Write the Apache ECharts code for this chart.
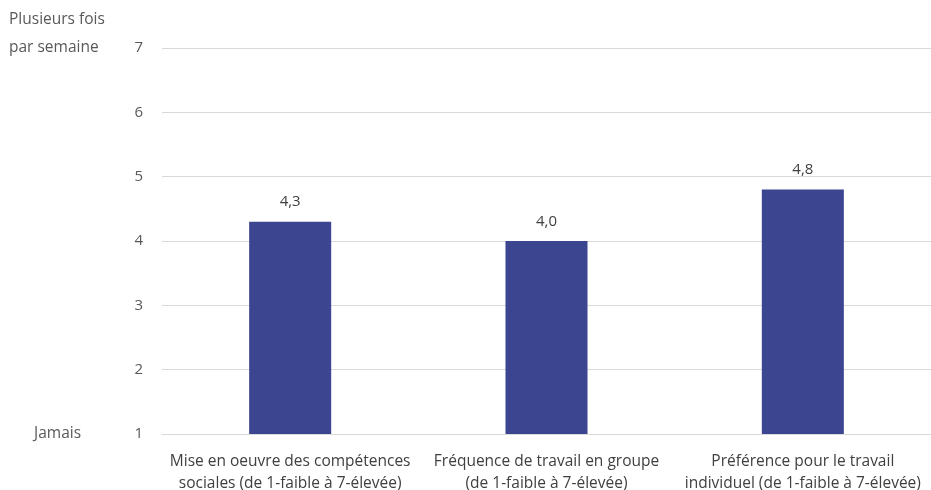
<!DOCTYPE html>
<html>
<head>
<meta charset="utf-8">
<script src="https://cdn.jsdelivr.net/npm/echarts@6/dist/echarts.min.js"></script>
<style>html,body{margin:0;padding:0;background:#fff}#c{width:931px;height:490px}</style>
</head>
<body>
<div id="c"></div>
<script>
const categories = [
  "Mise en oeuvre des compétences\nsociales (de 1-faible à 7-élevée)",
  "Fréquence de travail en groupe\n(de 1-faible à 7-élevée)",
  "Préférence pour le travail\nindividuel (de 1-faible à 7-élevée)"
];
const values = [4.3, 4.0, 4.8];
const yMin = 1, yMax = 7, yInterval = 1;
const topAxisNote = ["Plusieurs fois", "par semaine"];
const bottomAxisNote = "Jamais";

const FONT = "Open Sans";
const chart = echarts.init(document.getElementById('c'), null, {renderer: 'canvas'});
chart.setOption({
  animation: false,
  backgroundColor: '#fff',
  grid: {left: 162, right: 0, top: 48, bottom: 56, containLabel: false, outerBoundsMode: 'none'},
  xAxis: {
    type: 'category',
    data: categories,
    axisLine: {show: true, lineStyle: {color: '#d9d9d9', width: 1}},
    axisTick: {show: false},
    axisLabel: {color: '#404040', fontSize: 15.5, fontFamily: FONT, lineHeight: 22, margin: 17, interval: 0}
  },
  yAxis: {
    type: 'value',
    min: yMin, max: yMax, interval: yInterval,
    axisLine: {show: false},
    axisTick: {show: false},
    splitLine: {lineStyle: {color: '#d9d9d9', width: 1}},
    axisLabel: {color: '#595959', fontSize: 15, fontFamily: FONT, margin: 19}
  },
  series: [{
    type: 'bar',
    data: values,
    barWidth: '32%',
    itemStyle: {color: '#3c4590'},
    label: {
      show: true, position: 'top', distance: 12,
      color: '#404040', fontSize: 15, fontFamily: FONT,
      formatter: p => p.value.toFixed(1).replace('.', ',')
    }
  }],
  graphic: [
    {type: 'text', left: 9, top: 6, style: {text: topAxisNote.join('\n'), fill: '#595959', font: '15.5px "' + FONT + '"', lineHeight: 28, align: 'center', width: 108}},
    {type: 'text', left: 34, top: 426, style: {text: bottomAxisNote, fill: '#595959', font: '15.5px "' + FONT + '"'}}
  ]
});
</script>
</body>
</html>
